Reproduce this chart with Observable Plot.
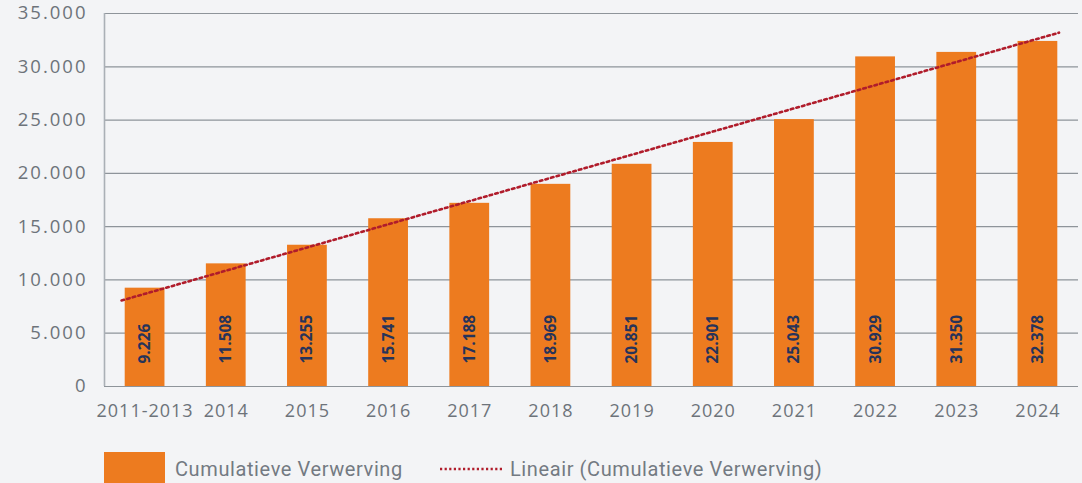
<!DOCTYPE html>
<html>
<head>
<meta charset="utf-8">
<script src="https://cdn.jsdelivr.net/npm/d3@7"></script>
<script src="https://cdn.jsdelivr.net/npm/@observablehq/plot@0.6"></script>
<style>
  html, body { margin: 0; padding: 0; background: #f3f4f6; width: 1082px; height: 483px; overflow: hidden; }
  #wrap { position: relative; width: 1082px; height: 483px; }
  #chart { position: absolute; left: 0; top: 0; }
  #legend { position: absolute; left: 0; top: 451px; width: 1082px; height: 32px; font-family: Roboto, sans-serif; font-size: 20px; letter-spacing: 0.6px; color: #737a82; }
  .sw { position: absolute; left: 104px; top: 1px; width: 61px; height: 32px; background: #ed7b1f; }
  .lt { position: absolute; top: 5px; line-height: 26px; white-space: nowrap; }
  .dl { position: absolute; left: 439px; top: 15px; }
</style>
</head>
<body>
<div id="wrap">
  <div id="chart"></div>
  <div id="legend">
    <div class="sw"></div>
    <div class="lt" style="left:175px">Cumulatieve Verwerving</div>
    <svg class="dl" width="66" height="6"><line x1="1" y1="3" x2="64" y2="3" stroke="#b01c2b" stroke-width="2.4" stroke-dasharray="2.2,2.4"/></svg>
    <div class="lt" style="left:510px">Lineair (Cumulatieve Verwerving)</div>
  </div>
</div>
<script>
const categories = ["2011-2013","2014","2015","2016","2017","2018","2019","2020","2021","2022","2023","2024"];
const values = [9226, 11508, 13255, 15741, 17188, 18969, 20851, 22901, 25043, 30929, 31350, 32378];
const yTicks = [0, 5000, 10000, 15000, 20000, 25000, 30000, 35000];
const trendPos = [0.71, 12.26];
const trendValues = [8070, 33200];

const nl = d3.formatLocale({decimal: ",", thousands: ".", grouping: [3], currency: ["€", ""]});
const fmt = nl.format(",d");

const data = categories.map((c, i) => ({pos: i + 1, cat: c, value: values[i]}));
const trend = trendPos.map((p, i) => ({pos: p, value: trendValues[i]}));

const chart = Plot.plot({
  width: 1082,
  height: 430,
  marginLeft: 104,
  marginRight: 4,
  marginTop: 13,
  marginBottom: 44,
  style: {background: "transparent", fontFamily: "'Open Sans', sans-serif"},
  x: {domain: [0.5, 12.5]},
  y: {domain: [0, 35000]},
  marks: [
    Plot.ruleY(yTicks, {stroke: "#8e949a", strokeWidth: 1.2}),
    Plot.ruleX([0.5], {y1: 0, y2: 35000, stroke: "#aab0b6", strokeWidth: 1.6}),
    Plot.rectY(data, {x1: d => d.pos - 0.245, x2: d => d.pos + 0.245, y: "value", fill: "#ed7b1f"}),
    Plot.text(data, {x: "pos", y: 0, text: d => fmt(d.value), rotate: -90, textAnchor: "start", lineAnchor: "middle", dy: -23, fill: "#26335a", fontWeight: "bold", fontSize: 15.5, style: {letterSpacing: "0.6px"}}),
    Plot.line(trend, {x: "pos", y: "value", stroke: "#b01c2b", strokeWidth: 2.6, strokeDasharray: "2.6,3.2"}),
    Plot.axisY({ticks: yTicks, tickFormat: fmt, tickSize: 0, tickPadding: 17, fontSize: 18.5, fill: "#6d737a", label: null}),
    Plot.axisX({ticks: d3.range(1, 13), tickFormat: i => categories[i - 1], tickSize: 0, tickPadding: 18, fontSize: 18, fill: "#6d737a", label: null})
  ]
});
chart.querySelectorAll("g[aria-label='y-axis tick label'] text").forEach(t => t.style.letterSpacing = "2px");
chart.querySelectorAll("g[aria-label='x-axis tick label'] text").forEach(t => t.style.letterSpacing = "1px");
document.getElementById("chart").appendChild(chart);
</script>
</body>
</html>
